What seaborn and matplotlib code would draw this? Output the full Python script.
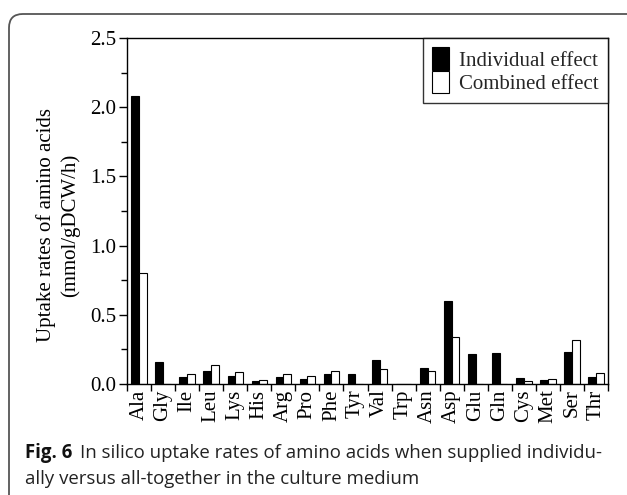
import matplotlib
matplotlib.use("Agg")
import matplotlib.pyplot as plt
import seaborn as sns
import pandas as pd
import numpy as np
from matplotlib.patches import FancyBboxPatch, Patch
from matplotlib.ticker import MultipleLocator, FixedLocator

amino_acids = ["Ala", "Gly", "Ile", "Leu", "Lys", "His", "Arg", "Pro", "Phe", "Tyr",
               "Val", "Trp", "Asn", "Asp", "Glu", "Gln", "Cys", "Met", "Ser", "Thr"]
individual = [2.08, 0.16, 0.048, 0.096, 0.060, 0.019, 0.053, 0.038, 0.070, 0.070,
              0.171, 0.0, 0.113, 0.600, 0.219, 0.222, 0.043, 0.026, 0.231, 0.053]
combined = [0.80, 0.0, 0.072, 0.137, 0.084, 0.026, 0.072, 0.055, 0.091, 0.0,
            0.106, 0.0, 0.096, 0.337, 0.0, 0.0, 0.024, 0.038, 0.316, 0.077]
series_names = ["Individual effect", "Combined effect"]
y_label = "Uptake rates of amino acids\n(mmol/gDCW/h)"
caption_bold = "Fig. 6"
caption_line1 = "In silico uptake rates of amino acids when supplied individu-"
caption_line2 = "ally versus all-together in the culture medium"

sns.set_theme(style="white")
plt.rcParams["font.family"] = ["Liberation Serif", "DejaVu Serif"]

df = pd.DataFrame({
    "aa": amino_acids * 2,
    "rate": individual + combined,
    "effect": [series_names[0]] * len(amino_acids) + [series_names[1]] * len(amino_acids),
})

W, H = 627, 495
fig = plt.figure(figsize=(W / 100, H / 100), dpi=100)
fig.patch.set_facecolor("white")
ax = fig.add_axes([127 / W, 1 - 384 / H, (608 - 127) / W, (384 - 38) / H])

sns.barplot(data=df, x="aa", y="rate", hue="effect", order=amino_acids,
            hue_order=series_names,
            palette={series_names[0]: "black", series_names[1]: "white"},
            edgecolor="black", linewidth=0.8, width=0.64, saturation=1,
            ax=ax, legend=False)

n = len(amino_acids)
ax.set_xlim(-0.5, n - 0.5)
ax.set_ylim(0, 2.5)
ax.set_xlabel("")
ax.set_ylabel("")
ax.yaxis.set_major_locator(MultipleLocator(0.5))
ax.yaxis.set_minor_locator(MultipleLocator(0.25))
ax.yaxis.set_major_formatter(matplotlib.ticker.FormatStrFormatter("%.1f"))
ax.xaxis.set_minor_locator(FixedLocator(np.arange(-0.5, n, 1.0)))
ax.tick_params(axis="y", which="major", direction="out", length=6, width=1,
               labelsize=15, pad=2, left=True, color="black", labelcolor="black")
ax.tick_params(axis="y", which="minor", direction="out", length=4, width=1,
               left=True, color="black")
ax.tick_params(axis="x", which="major", length=0, labelsize=15, pad=4,
               labelrotation=90, labelcolor="black")
ax.tick_params(axis="x", which="minor", direction="out", length=5, width=1,
               bottom=True, color="black")
for s in ax.spines.values():
    s.set_visible(True)
    s.set_color("black")
    s.set_linewidth(1.0)

handles = [Patch(facecolor="black", edgecolor="black", linewidth=0.8),
           Patch(facecolor="white", edgecolor="black", linewidth=0.8)]
leg = ax.legend(handles, series_names, loc="upper right", frameon=True,
                fancybox=False, borderaxespad=0, fontsize=15,
                handlelength=0.8, handleheight=1.3, handletextpad=0.5,
                labelspacing=0.0, borderpad=0.45)
leg.get_frame().set_edgecolor("black")
leg.get_frame().set_linewidth(1.0)

fig.text(58 / W, 1 - 225 / H, y_label, rotation=90, ha="center", va="center",
         multialignment="center", fontsize=15, linespacing=1.25, color="black")

# outer rounded frame
frame = FancyBboxPatch((9 / W, -0.05), 1.2, 1 - 14 / H + 0.05,
                       boxstyle="round,pad=0,rounding_size=0.022",
                       transform=fig.transFigure, facecolor="none",
                       edgecolor="#555555", linewidth=1.3, clip_on=False,
                       mutation_aspect=W / H)
fig.patches.append(frame)

cap_font = ["Open Sans", "DejaVu Sans"]
cap_size = 13.4
tb = fig.text(25 / W, 1 - 458 / H, caption_bold, fontsize=cap_size, fontweight="bold",
              family=cap_font, va="baseline", ha="left", color="#111111")
fig.canvas.draw()
bb = tb.get_window_extent()
fig.text((bb.x1 + 8) / W, 1 - 458 / H, caption_line1, fontsize=cap_size,
         family=cap_font, va="baseline", ha="left", color="#222222")
fig.text(25 / W, 1 - 484 / H, caption_line2, fontsize=cap_size,
         family=cap_font, va="baseline", ha="left", color="#222222")

fig.savefig("out.png", dpi=100, facecolor="white")
